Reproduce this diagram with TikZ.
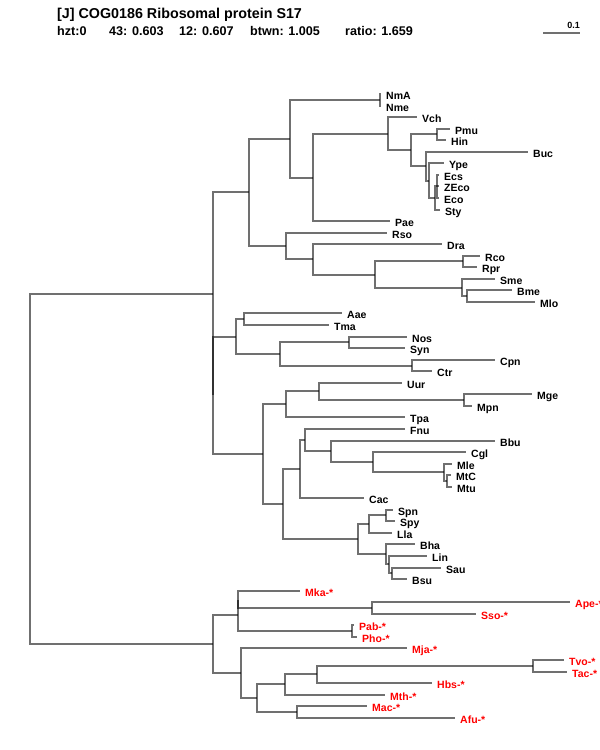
\documentclass[tikz,border=0pt]{standalone}
\usepackage{fontspec}
\setmainfont{Liberation Sans}
\newcommand\treeleaf[5][lab]{\coordinate (#2) at (#3,#4); \node[#1] (t#2) at (#2) {#5};}
\newcommand\treebr[2]{\draw[br] (#1) |- (#2);}
\begin{document}
\begin{tikzpicture}[x=1pt,y=-1pt,
  br/.style={draw=black, draw opacity=0.56, line width=2pt},
  lab/.style={anchor=base west, inner sep=0pt, font=\bfseries\fontsize{10.5}{12}\selectfont, xshift=5pt, yshift=-5.75pt},
  arch/.style={lab, text=red},
  hdr/.style={anchor=base west, inner sep=0pt, font=\bfseries\fontsize{12.6}{15}\selectfont},
  ttl/.style={anchor=base west, inner sep=0pt, font=\bfseries\fontsize{14.3}{16}\selectfont}]
\useasboundingbox (0,0) rectangle (600,750);
% header
\node[ttl] (title) at (57,18) {[J] COG0186 Ribosomal protein S17};
\node[hdr] (h1) at (57,35.5) {hzt:0};
\node[hdr] (h2) at (109,35.5) {43: 0.603};
\node[hdr] (h3) at (179,35.5) {12: 0.607};
\node[hdr] (h4) at (250,35.5) {btwn: 1.005};
\node[hdr] (h5) at (345,35.5) {ratio: 1.659};
% scale bar
\coordinate (sb1) at (543,33);
\coordinate (sb2) at (580,33);
\draw[br] (sb1) -- (sb2);
\node[anchor=base east, inner sep=0pt, font=\bfseries\fontsize{9}{10}\selectfont] (sbl) at (580,28.3) {0.1};
% leaves
\treeleaf{NmA}{381}{94}{NmA}
\treeleaf{Nme}{381}{106}{Nme}
\treeleaf{Vch}{417}{117}{Vch}
\treeleaf{Pmu}{450}{129}{Pmu}
\treeleaf{Hin}{446}{140}{Hin}
\treeleaf{Buc}{528}{152}{Buc}
\treeleaf{Ype}{444}{163}{Ype}
\treeleaf{Ecs}{439}{175}{Ecs}
\treeleaf{ZEco}{439}{186}{ZEco}
\treeleaf{Eco}{439}{198}{Eco}
\treeleaf{Sty}{440}{210}{Sty}
\treeleaf{Pae}{390}{221}{Pae}
\treeleaf{Rso}{387}{233}{Rso}
\treeleaf{Dra}{442}{244}{Dra}
\treeleaf{Rco}{480}{256}{Rco}
\treeleaf{Rpr}{477}{267}{Rpr}
\treeleaf{Sme}{495}{279}{Sme}
\treeleaf{Bme}{512}{290}{Bme}
\treeleaf{Mlo}{535}{302}{Mlo}
\treeleaf{Aae}{342}{313}{Aae}
\treeleaf{Tma}{329}{325}{Tma}
\treeleaf{Nos}{407}{337}{Nos}
\treeleaf{Syn}{405}{348}{Syn}
\treeleaf{Cpn}{495}{360}{Cpn}
\treeleaf{Ctr}{432}{371}{Ctr}
\treeleaf{Uur}{402}{383}{Uur}
\treeleaf{Mge}{532}{394}{Mge}
\treeleaf{Mpn}{472}{406}{Mpn}
\treeleaf{Tpa}{405}{417}{Tpa}
\treeleaf{Fnu}{405}{429}{Fnu}
\treeleaf{Bbu}{495}{441}{Bbu}
\treeleaf{Cgl}{466}{452}{Cgl}
\treeleaf{Mle}{452}{464}{Mle}
\treeleaf{MtC}{451}{475}{MtC}
\treeleaf{Mtu}{452}{487}{Mtu}
\treeleaf{Cac}{364}{498}{Cac}
\treeleaf{Spn}{393}{510}{Spn}
\treeleaf{Spy}{395}{521}{Spy}
\treeleaf{Lla}{392}{533}{Lla}
\treeleaf{Bha}{415}{544}{Bha}
\treeleaf{Lin}{427}{556}{Lin}
\treeleaf{Sau}{441}{568}{Sau}
\treeleaf{Bsu}{407}{579}{Bsu}
\treeleaf[arch]{Mka}{300}{591}{Mka-*}
\treeleaf[arch]{Ape}{570}{602}{Ape-*}
\treeleaf[arch]{Sso}{476}{614}{Sso-*}
\treeleaf[arch]{Pab}{354}{625}{Pab-*}
\treeleaf[arch]{Pho}{357}{637}{Pho-*}
\treeleaf[arch]{Mja}{407}{648}{Mja-*}
\treeleaf[arch]{Tvo}{564}{660}{Tvo-*}
\treeleaf[arch]{Tac}{567}{672}{Tac-*}
\treeleaf[arch]{Hbs}{432}{683}{Hbs-*}
\treeleaf[arch]{Mth}{385}{695}{Mth-*}
\treeleaf[arch]{Mac}{367}{706}{Mac-*}
\treeleaf[arch]{Afu}{455}{718}{Afu-*}
% internal nodes
\coordinate (nNm) at (380,100);
\coordinate (nPH) at (437,134);
\coordinate (nE2) at (437,186);
\coordinate (nE1) at (435,198);
\coordinate (nY) at (429,181);
\coordinate (nB) at (426,166);
\coordinate (nH) at (411,150);
\coordinate (nV) at (388,134);
\coordinate (nP) at (313,178);
\coordinate (nN) at (290,139);
\coordinate (nRR) at (463,261);
\coordinate (nBM) at (467,296);
\coordinate (nS) at (462,288);
\coordinate (nR2) at (375,275);
\coordinate (nD) at (313,259);
\coordinate (nRs) at (286,246);
\coordinate (nPro) at (249,192);
\coordinate (nAT) at (244,319);
\coordinate (nNS) at (349,342);
\coordinate (nCC) at (412,366);
\coordinate (nCy) at (280,354);
\coordinate (nMid) at (236,337);
\coordinate (nMM) at (464,400);
\coordinate (nU) at (319,391);
\coordinate (nT) at (286,404);
\coordinate (nM2) at (447,481);
\coordinate (nM1) at (444,472);
\coordinate (nCg) at (373,462);
\coordinate (nBb) at (331,451);
\coordinate (nF) at (305,440);
\coordinate (nCa) at (300,469);
\coordinate (nSS) at (386,515);
\coordinate (nL) at (369,524);
\coordinate (nSB) at (392,573);
\coordinate (nLi) at (389,564);
\coordinate (nBh) at (386,554);
\coordinate (nLac) at (358,539);
\coordinate (nFirm) at (283,504);
\coordinate (nLow) at (263,454);
\coordinate (nX) at (213,395);
\coordinate (nBac) at (213,294);
\coordinate (nAS) at (372,608);
\coordinate (nPP) at (352,631);
\coordinate (nA2) at (238,600);
\coordinate (nA1) at (238,615);
\coordinate (nTT) at (533,666);
\coordinate (nHb) at (317,674);
\coordinate (nMt) at (285,684);
\coordinate (nMA) at (297,712);
\coordinate (nM3) at (257,698);
\coordinate (nMj) at (241,673);
\coordinate (nArc) at (213,644);
\coordinate (root) at (30,469);
% branches
\treebr{nNm}{NmA}\treebr{nNm}{Nme}
\treebr{nPH}{Pmu}\treebr{nPH}{Hin}
\treebr{nE2}{Ecs}\treebr{nE2}{ZEco}\treebr{nE2}{Eco}
\treebr{nE1}{nE2}\treebr{nE1}{Sty}
\treebr{nY}{Ype}\treebr{nY}{nE1}
\treebr{nB}{Buc}\treebr{nB}{nY}
\treebr{nH}{nPH}\treebr{nH}{nB}
\treebr{nV}{Vch}\treebr{nV}{nH}
\treebr{nP}{nV}\treebr{nP}{Pae}
\treebr{nN}{nNm}\treebr{nN}{nP}
\treebr{nRR}{Rco}\treebr{nRR}{Rpr}
\treebr{nBM}{Bme}\treebr{nBM}{Mlo}
\treebr{nS}{Sme}\treebr{nS}{nBM}
\treebr{nR2}{nRR}\treebr{nR2}{nS}
\treebr{nD}{Dra}\treebr{nD}{nR2}
\treebr{nRs}{Rso}\treebr{nRs}{nD}
\treebr{nPro}{nN}\treebr{nPro}{nRs}
\treebr{nAT}{Aae}\treebr{nAT}{Tma}
\treebr{nNS}{Nos}\treebr{nNS}{Syn}
\treebr{nCC}{Cpn}\treebr{nCC}{Ctr}
\treebr{nCy}{nNS}\treebr{nCy}{nCC}
\treebr{nMid}{nAT}\treebr{nMid}{nCy}
\treebr{nMM}{Mge}\treebr{nMM}{Mpn}
\treebr{nU}{Uur}\treebr{nU}{nMM}
\treebr{nT}{nU}\treebr{nT}{Tpa}
\treebr{nM2}{MtC}\treebr{nM2}{Mtu}
\treebr{nM1}{Mle}\treebr{nM1}{nM2}
\treebr{nCg}{Cgl}\treebr{nCg}{nM1}
\treebr{nBb}{Bbu}\treebr{nBb}{nCg}
\treebr{nF}{Fnu}\treebr{nF}{nBb}
\treebr{nCa}{nF}\treebr{nCa}{Cac}
\treebr{nSS}{Spn}\treebr{nSS}{Spy}
\treebr{nL}{nSS}\treebr{nL}{Lla}
\treebr{nSB}{Sau}\treebr{nSB}{Bsu}
\treebr{nLi}{Lin}\treebr{nLi}{nSB}
\treebr{nBh}{Bha}\treebr{nBh}{nLi}
\treebr{nLac}{nL}\treebr{nLac}{nBh}
\treebr{nFirm}{nCa}\treebr{nFirm}{nLac}
\treebr{nLow}{nT}\treebr{nLow}{nFirm}
\treebr{nX}{nMid}\treebr{nX}{nLow}
\treebr{nBac}{nPro}\treebr{nBac}{nX}
\treebr{nAS}{Ape}\treebr{nAS}{Sso}
\treebr{nPP}{Pab}\treebr{nPP}{Pho}
\treebr{nA2}{Mka}\treebr{nA2}{nAS}
\treebr{nA1}{nA2}\treebr{nA1}{nPP}
\treebr{nTT}{Tvo}\treebr{nTT}{Tac}
\treebr{nHb}{nTT}\treebr{nHb}{Hbs}
\treebr{nMt}{nHb}\treebr{nMt}{Mth}
\treebr{nMA}{Mac}\treebr{nMA}{Afu}
\treebr{nM3}{nMt}\treebr{nM3}{nMA}
\treebr{nMj}{Mja}\treebr{nMj}{nM3}
\treebr{nArc}{nA1}\treebr{nArc}{nMj}
\treebr{root}{nBac}\treebr{root}{nArc}
\end{tikzpicture}
\end{document}
